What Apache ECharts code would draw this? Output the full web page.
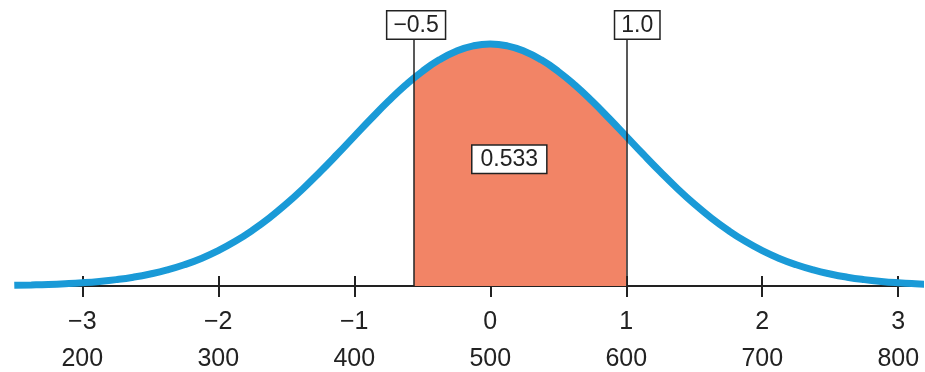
<!DOCTYPE html>
<html>
<head>
<meta charset="utf-8">
<script src="https://cdn.jsdelivr.net/npm/echarts@6/dist/echarts.min.js"></script>
<style>
  html, body { margin: 0; padding: 0; background: #fff; }
  #main { width: 925px; height: 372px; }
</style>
</head>
<body>
<div id="main"></div>
<script>
// z positions and curve heights
const zPoints = [-3.5, -3.375, -3.25, -3.125, -3, -2.875, -2.75, -2.625, -2.5, -2.375, -2.25, -2.125,
                 -2, -1.875, -1.75, -1.625, -1.5, -1.375, -1.25, -1.125, -1, -0.875, -0.75, -0.625,
                 -0.5, -0.375, -0.25, -0.125, 0, 0.125, 0.25, 0.375, 0.5, 0.625, 0.75, 0.875,
                 1, 1.125, 1.25, 1.375, 1.5, 1.625, 1.75, 1.875, 2, 2.125, 2.25, 2.375,
                 2.5, 2.625, 2.75, 2.875, 3, 3.125, 3.25];
const density = [0.0011, 0.0017, 0.0025, 0.0037, 0.0053, 0.0075, 0.0105, 0.0145, 0.0198, 0.0265, 0.0350, 0.0455,
                 0.0583, 0.0736, 0.0916, 0.1121, 0.1353, 0.1608, 0.1883, 0.2171, 0.2467, 0.2761, 0.3044, 0.3306,
                 0.3537, 0.3728, 0.3871, 0.3959, 0.3989, 0.3959, 0.3871, 0.3728, 0.3537, 0.3306, 0.3044, 0.2761,
                 0.2467, 0.2171, 0.1883, 0.1608, 0.1353, 0.1121, 0.0916, 0.0736, 0.0583, 0.0455, 0.0350, 0.0265,
                 0.0198, 0.0145, 0.0105, 0.0075, 0.0053, 0.0037, 0.0025];

// tick labels
const zTicks = [-3, -2, -1, 0, 1, 2, 3];
const zLabels = ['\u22123', '\u22122', '\u22121', '0', '1', '2', '3'];
const rawLabels = ['200', '300', '400', '500', '600', '700', '800'];

// shaded interval as drawn (left edge sits a little left of -0.5 in the picture)
const shadeFrom = -0.56;
const shadeFromHeight = 0.344;
const shadeTo = 1.0;
const shadeLabels = ['\u22120.5', '1.0'];
const areaText = ['0.533'];

const curveData = zPoints.map((z, i) => [z, density[i]]);
const shadeData = [[shadeFrom, shadeFromHeight]].concat(
  curveData.filter(p => p[0] > shadeFrom && p[0] <= shadeTo));

const boxStyle = {
  color: '#222',
  fontFamily: 'Liberation Sans, Arial, sans-serif',
  fontSize: 23,
  lineHeight: 22,
  backgroundColor: '#fff',
  borderColor: '#222',
  borderWidth: 1.5,
  padding: [3, 6, 2, 6]
};

const chart = echarts.init(document.getElementById('main'));

const option = {
  animation: false,
  grid: { left: 17, width: 903, top: 13, height: 273 },
  xAxis: [
    {
      type: 'value',
      min: -3.48,
      max: 3.16,
      axisLine: { show: true, lineStyle: { color: '#222', width: 2 } },
      axisTick: { show: true, customValues: zTicks, length: 11, lineStyle: { color: '#222', width: 2 } },
      axisLabel: {
        customValues: zTicks,
        margin: 18,
        formatter: function (v) {
          const i = zTicks.indexOf(v);
          return '{z|' + zLabels[i] + '}\n{r|' + rawLabels[i] + '}';
        },
        rich: {
          z: { fontSize: 25, lineHeight: 36, color: '#222', fontFamily: 'Liberation Sans, Arial, sans-serif' },
          r: { fontSize: 25, lineHeight: 38, color: '#222', fontFamily: 'Liberation Sans, Arial, sans-serif' }
        }
      },
      splitLine: { show: false }
    },
    {
      type: 'value',
      position: 'bottom',
      min: -3.48,
      max: 3.16,
      axisLine: { show: false },
      axisTick: { show: true, inside: true, customValues: zTicks, length: 10, lineStyle: { color: '#222', width: 2 } },
      axisLabel: { show: false },
      splitLine: { show: false }
    }
  ],
  yAxis: { type: 'value', min: 0, max: 0.45, show: false },
  series: [
    {
      name: 'shade',
      type: 'line',
      data: shadeData,
      smooth: true,
      symbol: 'none',
      lineStyle: { width: 0 },
      areaStyle: { color: '#f28466', opacity: 1 },
      z: 1,
      markLine: {
        silent: true,
        symbol: 'none',
        lineStyle: { color: '#222', width: 1.5, type: 'solid' },
        label: Object.assign({ show: true, position: 'end', distance: 0 }, boxStyle),
        data: [
          [{ coord: [shadeFrom, 0], label: { formatter: shadeLabels[0], offset: [2, 0] } }, { coord: [shadeFrom, 0.408] }],
          [{ coord: [shadeTo, 0], label: { formatter: shadeLabels[1], offset: [11, 0] } }, { coord: [shadeTo, 0.408] }]
        ]
      }
    },
    {
      name: 'curve',
      type: 'line',
      data: curveData,
      smooth: true,
      symbol: 'none',
      lineStyle: { color: '#1a9ad7', width: 7 },
      z: 3
    },
    {
      name: 'area',
      type: 'scatter',
      data: [[0.14, 0.209]],
      symbolSize: 0,
      itemStyle: { opacity: 1 },
      z: 4,
      label: Object.assign({ show: true, position: 'inside', formatter: areaText[0] }, boxStyle, { padding: [3, 8, 2, 8] })
    }
  ]
};

chart.setOption(option);
</script>
</body>
</html>
